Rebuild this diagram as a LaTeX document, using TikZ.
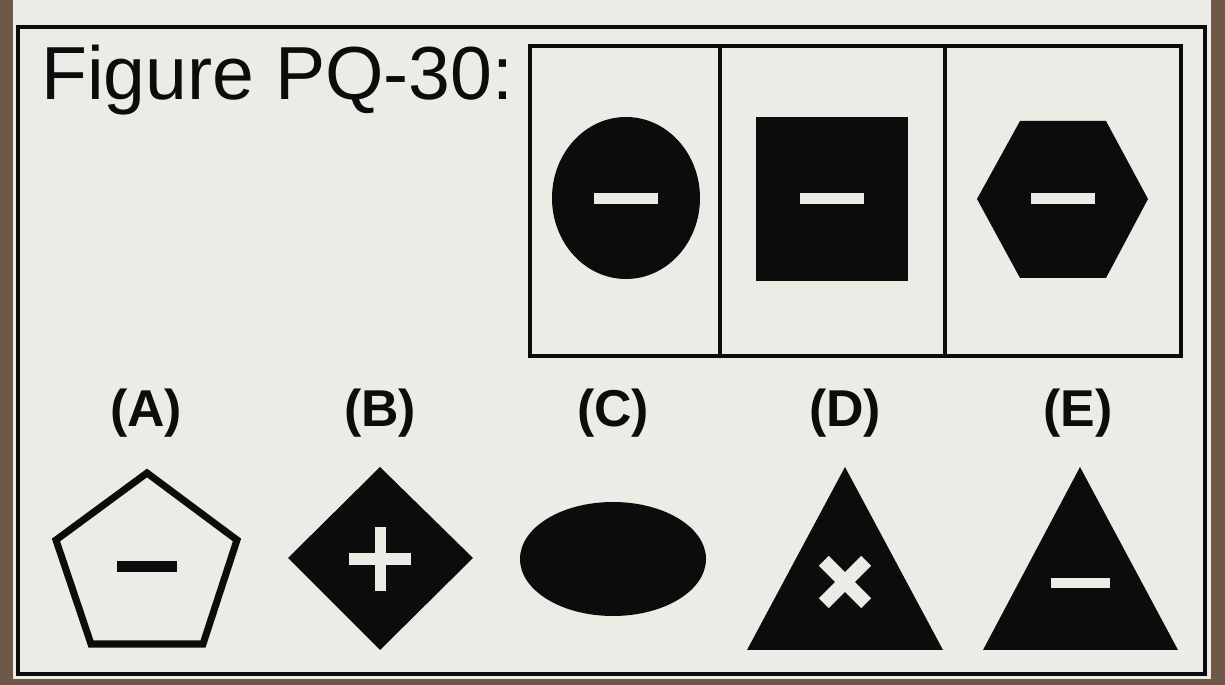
\documentclass[tikz,border=0pt]{standalone}
\usepackage{fontspec}
\setmainfont{Liberation Sans}
\usetikzlibrary{positioning}
\definecolor{paper}{RGB}{236,236,231}
\definecolor{ink}{RGB}{12,12,12}
\definecolor{backdrop}{RGB}{110,88,72}

\begin{document}
\begin{tikzpicture}[
x=0.02cm, y=-0.02cm,
panel/.style={draw=ink, line width=2.3pt},
solidfig/.style={fill=ink},
bar/.style={fill=paper},
choice/.style={font=\bfseries\fontsize{29.5}{30}\selectfont, text=ink, anchor=base, inner sep=0}
]
\useasboundingbox (0,0) rectangle (1225,685);
\fill[backdrop] (0,0) rectangle (1225,685);
\fill[paper] (13,0) rectangle (1211,679);
\draw[ink, line width=1.8pt] (18,27) rectangle (1205,674);

% title
\node[anchor=base west, inner sep=0, text=ink, font=\fontsize{42.8}{44}\selectfont] (title) at (41,100) {Figure PQ-30:};

% the series
\draw[panel] (530,46) rectangle (1181,356);
\draw[panel] (720,46) -- (720,356);
\draw[panel] (945,46) -- (945,356);

\fill[solidfig] (626,198) ellipse [x radius=74, y radius=81];
\fill[bar] (594,193) rectangle (658,204);

\fill[solidfig] (756,117) rectangle (908,281);
\fill[bar] (800,193) rectangle (864,204);

\fill[solidfig] (1020,121) -- (1106,121) -- (1148,199) -- (1106,278) -- (1020,278) -- (977,199) -- cycle;
\fill[bar] (1031,193) rectangle (1095,204);

% the choices
\node[choice] (labA) at (146,427) {(A)};
\node[choice] (labB) at (380,427) {(B)};
\node[choice] (labC) at (613,427) {(C)};
\node[choice] (labD) at (845,427) {(D)};
\node[choice] (labE) at (1078,427) {(E)};

\draw[ink, line width=4pt, line join=miter] (147,473) -- (237,540) -- (203,644) -- (91,644) -- (56,540) -- cycle;
\fill[ink] (117,561) rectangle (177,572);

\fill[solidfig] (380,467) -- (473,558) -- (380,650) -- (288,558) -- cycle;
\fill[bar] (374.5,527) rectangle (385.5,591);
\fill[bar] (349,553) rectangle (411,565);

\fill[solidfig] (613,559) ellipse [x radius=93, y radius=57];

\fill[solidfig] (845,467) -- (943,650) -- (747,650) -- cycle;
\foreach \ang in {45,-45}
  \fill[bar, rotate around={\ang:(845,582)}] (815,575) rectangle (875,589);

\fill[solidfig] (1080,467) -- (1178,650) -- (983,650) -- cycle;
\fill[bar] (1051,578) rectangle (1110,588);
\end{tikzpicture}
\end{document}
